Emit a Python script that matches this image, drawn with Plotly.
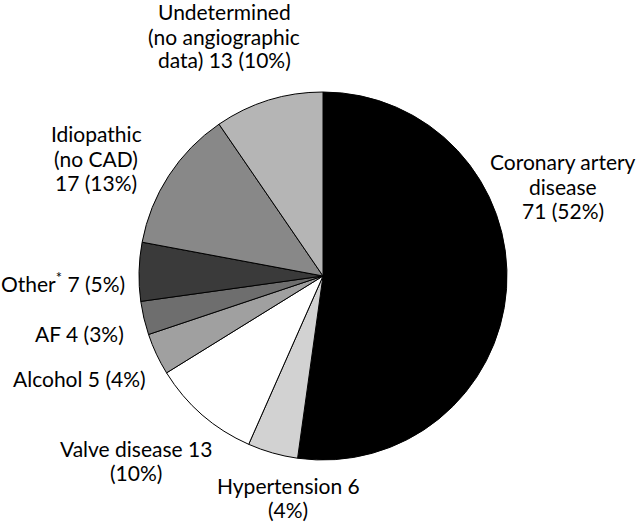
import plotly.graph_objects as go

causes = ["Coronary artery disease", "Hypertension", "Valve disease", "Alcohol",
          "AF", "Other*", "Idiopathic (no CAD)", "Undetermined (no angiographic data)"]
counts = [71, 6, 13, 5, 4, 7, 17, 13]
percents = [52, 4, 10, 4, 3, 5, 13, 10]
label_lines = [
    ["Coronary artery", "disease", "71 (52%)"],
    ["Hypertension 6", "(4%)"],
    ["Valve disease 13", "(10%)"],
    ["Alcohol 5 (4%)"],
    ["AF 4 (3%)"],
    ["Other<sup>*</sup> 7 (5%)"],
    ["Idiopathic", "(no CAD)", "17 (13%)"],
    ["Undetermined", "(no angiographic", "data) 13 (10%)"],
]
colours = ["#000000", "#d2d2d2", "#ffffff", "#a0a0a0",
           "#6e6e6e", "#3a3a3a", "#888888", "#b5b5b5"]

# label centres in pixels (x from left, y of first line from top)
label_pos = [(563, 162), (288, 485), (136, 448), (79, 378),
             (79, 333), (63, 282), (96, 134), (224, 12)]
line_gap = 24

W, H = 640, 522

fig = go.Figure(go.Pie(
    labels=causes, values=counts, sort=False, direction="clockwise", rotation=0,
    marker=dict(colors=colours, line=dict(color="black", width=1)),
    textinfo="none", hoverinfo="label+value+percent", showlegend=False,
    domain=dict(x=[139 / W, 507 / W], y=[(H - 460) / H, (H - 92) / H]),
))

for lines, (px, py) in zip(label_lines, label_pos):
    for i, txt in enumerate(lines):
        fig.add_annotation(x=px / W, y=1 - (py + i * line_gap) / H,
                           xref="paper", yref="paper",
                           text=txt, showarrow=False, xanchor="center", yanchor="middle",
                           font=dict(family="Lato", size=21, color="black"))

fig.update_layout(width=W, height=H, margin=dict(l=0, r=0, t=0, b=0),
                  paper_bgcolor="white", plot_bgcolor="white")
fig.write_html("out.html", config={"displayModeBar": False},
               post_script="document.body.style.margin='0';")
